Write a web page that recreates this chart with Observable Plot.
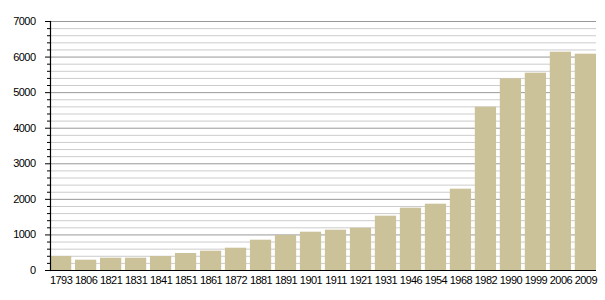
<!DOCTYPE html>
<html>
<head>
<meta charset="utf-8">
<script src="https://cdn.jsdelivr.net/npm/d3@7"></script>
<script src="https://cdn.jsdelivr.net/npm/@observablehq/plot@0.6"></script>
<style>
  html, body { margin: 0; padding: 0; background: #fff; }
  #chart { width: 605px; height: 300px; }
</style>
</head>
<body>
<div id="chart"></div>
<script>
const years = ["1793","1806","1821","1831","1841","1851","1861","1872","1881","1891","1901","1911","1921","1931","1946","1954","1968","1982","1990","1999","2006","2009"];
const population = [395, 290, 346, 346, 394, 478, 543, 627, 852, 984, 1077, 1133, 1189, 1527, 1752, 1864, 2286, 4591, 5389, 5547, 6137, 6081];
const majorTicks = [0, 1000, 2000, 3000, 4000, 5000, 6000, 7000];
const minorTicks = d3.range(0, 7001, 200).filter(v => v % 1000 !== 0);

const data = years.map((y, i) => ({year: y, value: population[i]}));

const chart = Plot.plot({
  width: 605,
  height: 300,
  marginLeft: 50,
  marginRight: 9,
  marginTop: 21,
  marginBottom: 30,
  style: {fontFamily: "'Liberation Sans', Arial, sans-serif", fontSize: "11px", letterSpacing: "-0.55px", color: "#000", background: "#fff"},
  x: {domain: years, paddingInner: 0.15, paddingOuter: 0, round: false, label: null},
  y: {domain: [0, 7000], label: null},
  marks: [
    Plot.ruleY(minorTicks, {stroke: "#cccccc", strokeWidth: 1}),
    Plot.ruleY(majorTicks, {stroke: "#999999", strokeWidth: 1}),
    Plot.barY(data, {x: "year", y: "value", fill: "#ccc29a"}),
    Plot.axisY(minorTicks, {tickSize: 3, tickFormat: () => "", stroke: "#000", strokeOpacity: 1}),
    Plot.axisY(majorTicks, {tickSize: 5, tickPadding: 10, tickFormat: d => String(d), stroke: "#000", strokeOpacity: 1, fill: "#000", fontSize: 11}),
    Plot.axisX({tickSize: 0, tickPadding: 6, fill: "#000", fontSize: 11}),
    Plot.ruleY([0], {stroke: "#000", strokeWidth: 1.2}),
    Plot.frame({anchor: "left", stroke: "#000", strokeWidth: 1.2})
  ]
});
document.getElementById("chart").appendChild(chart);
</script>
</body>
</html>
